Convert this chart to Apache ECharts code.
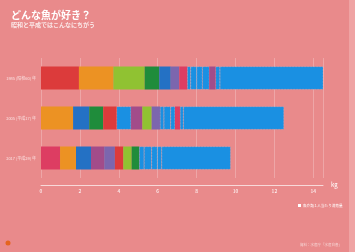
<!DOCTYPE html>
<html>
<head>
<meta charset="utf-8">
<script src="https://cdn.jsdelivr.net/npm/echarts@6/dist/echarts.min.js"></script>
<style>
  html, body { margin: 0; padding: 0; background: #e98a8b; }
  #main { width: 355px; height: 252px; }
</style>
</head>
<body>
<div id="main"></div>
<script>
var years = ['1985 (昭和60) 年', '2005 (平成17) 年', '2017 (平成29) 年'];

// 各年の内訳（左から順に）kg
var row1Values = [1.95, 1.77, 1.61, 0.75, 0.59, 0.44, 0.41, 0.18, 0.31, 0.28, 0.36, 0.33, 0.22, 5.31];
var row2Values = [1.65, 0.83, 0.72, 0.69, 0.74, 0.58, 0.48, 0.43, 0.20, 0.35, 0.22, 0.26, 0.17, 5.17];
var row3Values = [0.98, 0.82, 0.77, 0.68, 0.55, 0.43, 0.43, 0.39, 0.25, 0.39, 0.29, 0.23, 3.54];

var row1Kinds = ['red', 'orange', 'lgreen', 'dgreen', 'blue', 'purple', 'crimson', 'lb', 'lb', 'lb', 'lb', 'magenta', 'lb', 'lb'];
var row2Kinds = ['orange', 'blue', 'dgreen', 'red', 'lb', 'magenta', 'lgreen', 'purple', 'lb', 'lb', 'lb', 'crimson', 'lb', 'lb'];
var row3Kinds = ['crimson', 'orange', 'blue', 'magenta', 'purple', 'red', 'lgreen', 'dgreen', 'lb', 'lb', 'lb', 'lb', 'lb'];

var xTicks = [0, 2, 4, 6, 8, 10, 12, 14];

var palette = {
  red: '#dc3b3b',
  orange: '#ec9223',
  lgreen: '#90c232',
  dgreen: '#1f8c3b',
  blue: '#2471c4',
  purple: '#7c66ae',
  crimson: '#dd3d62',
  magenta: '#a24c8a',
  lb: '#1a90e2'
};

var rows = [
  { values: row1Values, kinds: row1Kinds },
  { values: row2Values, kinds: row2Kinds },
  { values: row3Values, kinds: row3Kinds }
];

var maxSeg = Math.max(row1Values.length, row2Values.length, row3Values.length);
var series = [];
for (var k = 0; k < maxSeg; k++) {
  var data = rows.map(function (r) {
    if (k >= r.values.length) return '-';
    var kind = r.kinds[k];
    return {
      value: r.values[k],
      itemStyle: {
        color: palette[kind],
        borderColor: kind === 'lb' ? 'rgba(255,255,255,0.25)' : 'rgba(255,255,255,0)',
        borderType: 'dashed',
        borderWidth: kind === 'lb' ? 0.5 : 0
      }
    };
  });
  series.push({
    type: 'bar',
    stack: 'total',
    barWidth: 23,
    data: data,
    silent: true
  });
}

var chart = echarts.init(document.getElementById('main'));
chart.setOption({
  backgroundColor: '#e98a8b',
  animation: false,
  textStyle: { fontFamily: '"Noto Sans CJK JP", sans-serif' },
  title: {
    text: 'どんな魚が好き？',
    subtext: '昭和と平成ではこんなにちがう',
    left: 6,
    top: 5,
    itemGap: 2,
    textStyle: { color: '#ffffff', fontSize: 10, fontWeight: 'bold' },
    subtextStyle: { color: '#fbe9e9', fontSize: 6, fontWeight: 'bold' }
  },
  grid: { left: 41, right: 32, top: 58, bottom: 74, outerBoundsMode: 'none', containLabel: false },
  xAxis: {
    type: 'value',
    min: 0,
    max: 14.5,
    interval: 2,
    offset: 7,
    name: 'kg',
    nameGap: 8,
    nameTextStyle: { color: '#ffffff', fontSize: 6, padding: [0, 0, 6, 0] },
    axisLine: { show: true, lineStyle: { color: 'rgba(255,255,255,0.85)', width: 0.8 } },
    axisTick: { show: false },
    axisLabel: {
      color: '#ffffff', fontSize: 5, margin: 4, showMaxLabel: false,
      formatter: function (v) { return xTicks.indexOf(v) >= 0 ? String(v) : ''; }
    },
    splitLine: { show: true, lineStyle: { color: 'rgba(255,255,255,0.35)', width: 0.7 } }
  },
  yAxis: {
    type: 'category',
    data: years,
    inverse: true,
    axisLine: { show: false },
    axisTick: { show: false },
    axisLabel: { color: '#fbe3e3', fontSize: 4, margin: 5 }
  },
  series: series,
  graphic: [
    { type: 'rect', shape: { x: 349, y: 0, width: 6, height: 252 }, style: { fill: '#efa3a3' } },
    { type: 'rect', shape: { x: 298, y: 204, width: 3, height: 3 }, style: { fill: '#ffffff' } },
    { type: 'text', x: 303, y: 203.5, style: { text: '魚介類１人当たり消費量', fill: '#ffffff', fontSize: 3.6, fontFamily: '"Noto Sans CJK JP", sans-serif' } },
    { type: 'text', x: 300, y: 243, style: { text: '資料：水産庁「水産白書」', fill: '#f6d4d4', fontSize: 3.5, fontFamily: '"Noto Sans CJK JP", sans-serif' } },
    { type: 'circle', shape: { cx: 8, cy: 243, r: 2.5 }, style: { fill: '#e5641f' } }
  ]
});
</script>
</body>
</html>
